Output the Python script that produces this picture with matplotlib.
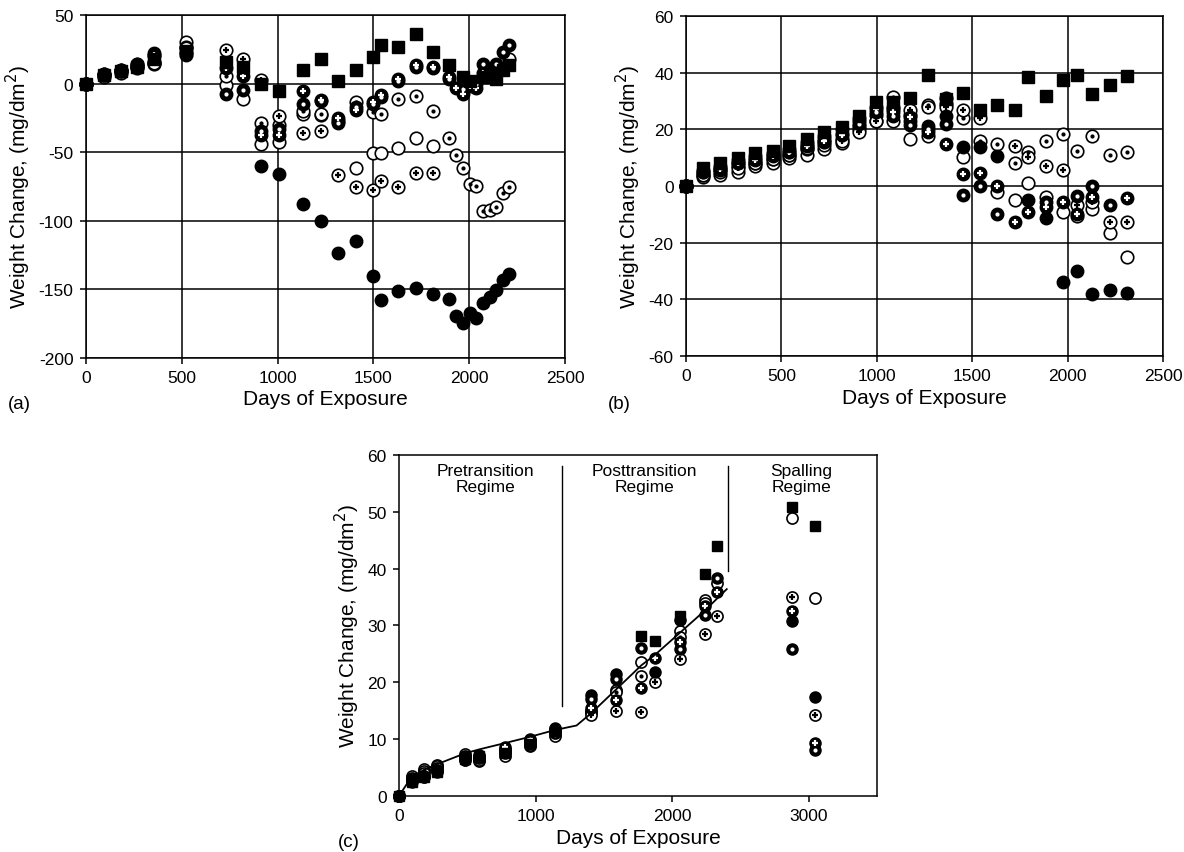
import matplotlib
matplotlib.use("Agg")
import matplotlib.pyplot as plt

plt.rcParams['font.family'] = ['Liberation Sans', 'DejaVu Sans']
plt.rcParams['axes.unicode_minus'] = False

# ---------------- Panel (a) data ----------------
a_sq_days = [0, 94, 184, 268, 355, 522, 731, 822, 914, 1005, 1134, 1228, 1317, 1409, 1500, 1541, 1630, 1722, 1811, 1897, 1966, 2003, 2071, 2106, 2142, 2175, 2210]
a_sq_vals = [0, 6, 9, 12, 18, 24, 15.8, 12.4, 0, -5.3, 9.7, 18.2, 1.7, 10.2, 19.5, 28, 26.8, 35.8, 23, 13.4, 5, 2, 5, 8, 3.6, 10, 13.4]
a_fc_days = [0, 94, 184, 268, 355, 522, 914, 1005, 1134, 1228, 1317, 1409, 1500, 1541, 1630, 1722, 1811, 1897, 1931, 1966, 2003, 2038, 2071, 2106, 2142, 2175, 2210]
a_fc_vals = [0, 7, 10, 14, 22, 21, -60.4, -66.4, -87.6, -100.5, -124, -114.8, -140.6, -157.7, -151.6, -149.6, -153.8, -157, -170, -174.5, -167.4, -171, -160, -155.5, -150.9, -143.6, -139.4]
a_oc_days = [0, 94, 184, 268, 355, 522, 731, 822, 914, 1005, 1134, 1228, 1409, 1500, 1541, 1630, 1722, 1811, 2175, 2210]
a_oc_vals = [0, 5, 8, 11, 14, 30, -1, -11, -44.3, -42.5, -22.6, -23, -61.5, -51, -51, -47.4, -39.6, -45.7, 14, 18]
a_od_days = [0, 94, 184, 268, 355, 522, 731, 914, 1005, 1134, 1228, 1317, 1409, 1500, 1541, 1630, 1722, 1811, 1897, 1931, 1966, 2003, 2038, 2071, 2106, 2142, 2175, 2210]
a_od_vals = [0, 6, 9, 13, 16, 27, 5.3, -28.5, -30.4, -20, -22, -27, -13.4, -20.7, -21.9, -11, -9, -20.2, -39.6, -52.3, -61.5, -73, -75, -93, -92.5, -90, -79.8, -75.4]
a_op_days = [0, 94, 184, 268, 355, 522, 731, 822, 914, 1005, 1134, 1228, 1317, 1409, 1500, 1541, 1630, 1722, 1811]
a_op_vals = [0, 6, 9, 12, 15, 26, 24.8, 18.2, 2.4, -24, -36, -34.4, -67, -75.4, -77.4, -71, -75.4, -65.2, -65]
a_fd_days = [0, 94, 184, 268, 355, 522, 731, 822, 914, 1005, 1134, 1228, 1317, 1409, 1500, 1541, 1630, 1722, 1811, 1897, 1966, 2038, 2071, 2106, 2142, 2175, 2210]
a_fd_vals = [0, 7, 10, 13, 20, 22, -7.3, -4.9, -35, -33, -14.6, -13, -29, -17, -15, -10, 2, 12, 11, 3, -4, 0, 14.6, 10, 14, 23, 28]
a_fp_days = [0, 94, 184, 268, 355, 522, 731, 822, 914, 1005, 1134, 1228, 1317, 1409, 1500, 1541, 1630, 1722, 1811, 1897, 1931, 1966, 2003, 2038, 2071]
a_fp_vals = [0, 7, 10, 14, 21, 23, 11, 5.3, -37.7, -37.7, -5.6, -12, -25.5, -19, -13.4, -8.5, 3.6, 13.4, 12.2, 5, -3.2, -7.3, -2, -3.6, 8]

# ---------------- Panel (b) data ----------------
b_days_early = [0, 87, 178, 271, 361, 454, 539, 632, 723, 815, 906, 998]
b_sq_days = b_days_early + [1086, 1176, 1269, 1360, 1450, 1541, 1632, 1723, 1793, 1885, 1976, 2051, 2129, 2220, 2311]
b_sq_vals = [0, 6.5, 8, 10, 11.5, 12.5, 14, 16.5, 19, 20.8, 24.8, 29.6, 29.6, 31, 39.2, 30.7, 32.7, 26.8, 28.6, 26.8, 38.3, 31.9, 37.4, 39.2, 32.5, 35.7, 38.7]
b_fc_days = b_days_early + [1086, 1176, 1269, 1360, 1450, 1541, 1632, 1793, 1885, 1976, 2051, 2129, 2220, 2311]
b_fc_vals = [0, 5.5, 7, 9, 10.5, 11.5, 13, 15.5, 17.5, 20, 24, 28, 28, 23, 21.3, 24.7, 13.6, 13.6, 10.5, -4.9, -11.4, -34, -29.9, -38.1, -36.6, -37.7]
b_oc_days = b_days_early + [1086, 1176, 1269, 1360, 1450, 1632, 1723, 1793, 1885, 1976, 2051, 2129, 2220, 2311]
b_oc_vals = [0, 3, 4, 5, 7, 8, 10, 11, 13, 15, 20, 23, 23, 16.6, 17.8, 31, 10.3, -2.2, -5, 0.9, -3.8, -9.1, -10.7, -8.1, -16.6, -25.2]
b_od_days = b_days_early + [1086, 1176, 1269, 1360, 1450, 1541, 1632, 1723, 1793, 1885, 1976, 2051, 2129, 2220, 2311]
b_od_vals = [0, 4, 5, 7, 8, 9.5, 11, 13, 14.5, 16.5, 21, 25, 31.4, 25, 28.6, 29, 24, 16, 14.8, 8.1, 11.9, 16, 18.3, 12.5, 17.8, 10.9, 11.9]
b_op_days = b_days_early + [1086, 1176, 1269, 1360, 1450, 1541, 1723, 1793, 1885, 1976, 2051, 2129, 2220, 2311]
b_op_vals = [0, 4, 5.5, 6.5, 8, 9.5, 11, 13.5, 15.5, 16, 19, 22.9, 27.2, 26.9, 28, 28, 26.9, 23.9, 14.2, 10.1, 7.2, 5.8, -6.6, -5.8, -12.6, -12.6]
b_fd_days = b_days_early + [1086, 1176, 1269, 1360, 1450, 1541, 1632, 1885, 2051, 2129, 2220]
b_fd_vals = [0, 5, 6.5, 8, 9.5, 11, 12, 14.5, 16.5, 18.5, 22, 26, 24.7, 21.6, 20, 21.9, -3.2, 0.1, -9.9, -5.5, -3.4, -0.1, -6.7]
b_fp_days = b_days_early + [1086, 1176, 1269, 1360, 1450, 1541, 1632, 1723, 1793, 1885, 1976, 2051, 2129, 2311]
b_fp_vals = [0, 5, 6, 8, 9, 10.5, 12, 14, 16, 18, 23, 27, 26, 24.3, 18.9, 14.8, 4.2, 4.5, 0.1, -12.6, -9.1, -7.4, -5.5, -9.9, -4, -4.3]

# ---------------- Panel (c) data ----------------
c_days_early = [0, 93, 183, 280, 483, 588, 775, 958, 1141]
c_sq_days = c_days_early + [1775, 1873, 2056, 2238, 2331, 2877, 3043]
c_sq_vals = [0, 2.5, 3.3, 4.2, 6.5, 7, 7.5, 9.2, 11.5, 28.2, 27.3, 31.7, 39.1, 44.0, 50.8, 47.5]
c_fc_days = c_days_early + [1409, 1592, 1873, 2056, 2877, 3043]
c_fc_vals = [0, 2.5, 3.3, 4.3, 6.3, 6.8, 7.6, 9.6, 12.0, 17.7, 21.5, 21.8, 30.9, 30.8, 17.5]
c_oc_days = c_days_early + [1409, 1592, 1775, 2056, 2238, 2331, 2877, 3043]
c_oc_vals = [0, 3.6, 4.8, 5.4, 7.4, 6.1, 7.0, 8.8, 10.5, 15.0, 18.6, 23.5, 29.1, 34.4, 37.4, 48.9, 34.9]
c_od_days = c_days_early + [1409, 1592, 1775, 2056, 2238]
c_od_vals = [0, 3.2, 4.4, 5.2, 7.0, 6.4, 7.8, 9.0, 11.0, 14.8, 18.3, 21.1, 28.0, 34.0]
c_op_days = c_days_early + [1409, 1592, 1775, 1873, 2056, 2238, 2331, 2877, 3043]
c_op_vals = [0, 3.0, 4.0, 5.0, 6.8, 6.6, 8.0, 9.3, 11.2, 14.2, 15.0, 14.8, 20.0, 24.1, 28.5, 31.6, 35.0, 14.3]
c_fd_days = c_days_early + [1409, 1592, 1775, 2056, 2238, 2331, 2877, 3043]
c_fd_vals = [0, 2.8, 3.6, 4.6, 6.6, 7.2, 8.2, 9.8, 11.8, 17.0, 20.5, 26.0, 25.9, 31.9, 38.3, 25.9, 8.0]
c_fp_days = c_days_early + [1409, 1592, 1775, 1873, 2056, 2238, 2331, 2877, 3043]
c_fp_vals = [0, 2.6, 3.4, 4.4, 6.4, 7.0, 8.6, 10.0, 11.6, 15.5, 16.8, 19.0, 24.3, 27.1, 33.5, 35.9, 32.6, 9.4]

# fitted rate-law curve in (c)
fit_days = [0, 90, 183, 280, 483, 588, 775, 958, 1141, 1300, 1409, 1592, 1775, 1873, 2056, 2238, 2400]
fit_vals = [0, 3.3, 4.6, 5.6, 7.5, 8.2, 9.3, 10.4, 11.6, 12.4, 14.6, 18.8, 23.0, 24.8, 28.7, 32.6, 36.4]

regime_bounds = [1197, 2409]
regime_tops = [(58.1, 15.9), (58.1, 39.6)]
regime_labels = ["Pretransition\nRegime", "Posttransition\nRegime", "Spalling\nRegime"]
regime_label_x = [636, 1800, 2946]

MS = 9


def plot_series(ax, x, y, kind, ms=MS):
    if kind == 'sq':
        ax.plot(x, y, 's', ms=ms * 0.95, mfc='black', mec='black', zorder=6, clip_on=False)
    elif kind == 'fc':
        ax.plot(x, y, 'o', ms=ms, mfc='black', mec='black', zorder=4, clip_on=False)
    elif kind == 'oc':
        ax.plot(x, y, 'o', ms=ms, mfc='white', mec='black', mew=1.2, zorder=3, clip_on=False)
    elif kind == 'od':
        ax.plot(x, y, 'o', ms=ms, mfc='white', mec='black', mew=1.2, zorder=3, clip_on=False)
        ax.plot(x, y, 'o', ms=2.0, mfc='black', mec='black', zorder=3.1, clip_on=False)
    elif kind == 'op':
        ax.plot(x, y, 'o', ms=ms, mfc='white', mec='black', mew=1.2, zorder=3, clip_on=False)
        ax.plot(x, y, '+', ms=ms * 0.5, mec='black', mew=1.6, zorder=3.1, clip_on=False)
    elif kind == 'fd':
        ax.plot(x, y, 'o', ms=ms, mfc='black', mec='black', zorder=5, clip_on=False)
        ax.plot(x, y, 'o', ms=2.0, mfc='white', mec='white', zorder=5.1, clip_on=False)
    elif kind == 'fp':
        ax.plot(x, y, 'o', ms=ms, mfc='black', mec='black', zorder=5, clip_on=False)
        ax.plot(x, y, '+', ms=ms * 0.5, mec='white', mew=1.6, zorder=5.1, clip_on=False)


fig = plt.figure(figsize=(11.84, 8.53), dpi=100)
TICK_FS = 12.5
LAB_FS = 15

ax_a = fig.add_axes([0.0726, 0.5797, 0.4046, 0.4015])
ax_b = fig.add_axes([0.5794, 0.5815, 0.4029, 0.3986])
ax_c = fig.add_axes([0.3370, 0.0657, 0.4037, 0.3997])

# panel a
for x, y, k in [(a_oc_days, a_oc_vals, 'oc'), (a_od_days, a_od_vals, 'od'), (a_op_days, a_op_vals, 'op'),
                (a_fc_days, a_fc_vals, 'fc'), (a_fd_days, a_fd_vals, 'fd'), (a_fp_days, a_fp_vals, 'fp'),
                (a_sq_days, a_sq_vals, 'sq')]:
    plot_series(ax_a, x, y, k)
ax_a.set_xlim(0, 2500)
ax_a.set_ylim(-200, 50)
ax_a.set_xticks(range(0, 2501, 500))
ax_a.set_yticks(range(-200, 51, 50))

# panel b
for x, y, k in [(b_oc_days, b_oc_vals, 'oc'), (b_od_days, b_od_vals, 'od'), (b_op_days, b_op_vals, 'op'),
                (b_fc_days, b_fc_vals, 'fc'), (b_fd_days, b_fd_vals, 'fd'), (b_fp_days, b_fp_vals, 'fp'),
                (b_sq_days, b_sq_vals, 'sq')]:
    plot_series(ax_b, x, y, k)
ax_b.set_xlim(0, 2500)
ax_b.set_ylim(-60, 60)
ax_b.set_xticks(range(0, 2501, 500))
ax_b.set_yticks(range(-60, 61, 20))

for ax in (ax_a, ax_b):
    ax.grid(True, color='black', linewidth=1.1)
    ax.set_axisbelow(True)

# panel c
for x, y, k in [(c_oc_days, c_oc_vals, 'oc'), (c_od_days, c_od_vals, 'od'), (c_op_days, c_op_vals, 'op'),
                (c_fc_days, c_fc_vals, 'fc'), (c_fd_days, c_fd_vals, 'fd'), (c_fp_days, c_fp_vals, 'fp'),
                (c_sq_days, c_sq_vals, 'sq')]:
    plot_series(ax_c, x, y, k, ms=8)
ax_c.plot(fit_days, fit_vals, '-', color='black', lw=1.3, zorder=7)
for xb, (ytop, ybot) in zip(regime_bounds, regime_tops):
    ax_c.plot([xb, xb], [ybot, ytop], '-', color='black', lw=1.0, zorder=2)
for xl, t in zip(regime_label_x, regime_labels):
    ax_c.text(xl, 58.6, t, ha='center', va='top', fontsize=12.5, linespacing=1.1)
ax_c.set_xlim(0, 3500)
ax_c.set_ylim(0, 60)
ax_c.set_xticks([0, 1000, 2000, 3000])
ax_c.set_yticks(range(0, 61, 10))

for ax in (ax_a, ax_b, ax_c):
    for s in ax.spines.values():
        s.set_linewidth(1.1)
        s.set_color('black')
    ax.tick_params(direction='out', length=4, width=1.1, labelsize=TICK_FS, pad=5)
    ax.set_xlabel('Days of Exposure', fontsize=LAB_FS, labelpad=3)
    ax.set_ylabel('Weight Change, (mg/dm$^2$)', fontsize=LAB_FS, labelpad=4)

fig.text(8 / 1184, 1 - 405 / 853, '(a)', fontsize=13.5, ha='left', va='center')
fig.text(608 / 1184, 1 - 405 / 853, '(b)', fontsize=13.5, ha='left', va='center')
fig.text(338 / 1184, 1 - 843 / 853, '(c)', fontsize=13.5, ha='left', va='center')

fig.savefig('out.png', dpi=100)
